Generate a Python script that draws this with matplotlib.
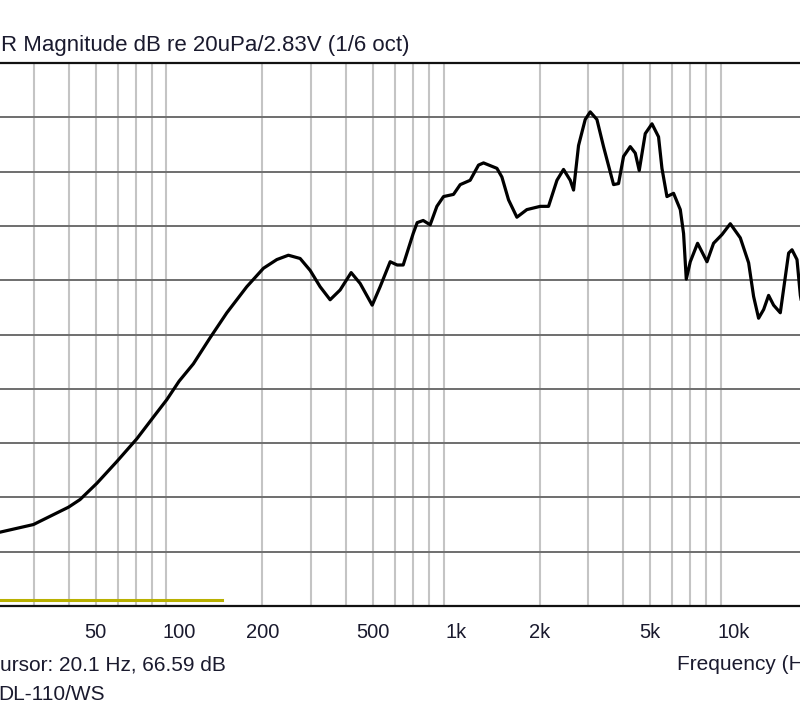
import numpy as np
import matplotlib
matplotlib.use("Agg")
import matplotlib.pyplot as plt

# frequency response (Hz, dB)
freq = [20, 22.6, 29.8, 39.9, 43.9, 50.5, 59.6, 70.4, 80.8, 90.3, 100,
        112.6, 129.4, 148.7, 175.5, 201.6, 225.3, 248, 273.4, 297.2, 322.8,
        350.8, 381.2, 417.8, 450.2, 497.6, 531.6, 577.8, 612.4, 643.8, 699.6,
        723.2, 760.2, 805.6, 851.8, 900, 977.9, 1034, 1123, 1204, 1255,
        1403, 1462, 1545, 1656, 1799, 2010, 2154, 2310, 2440, 2580,
        2652, 2764, 2922, 3046, 3220, 3402, 3698, 3854, 4018, 4248,
        4429, 4577, 4812, 5088, 5374, 5528, 5762, 6088, 6438, 6616,
        6766, 6995, 7432, 8037, 8489, 9104, 9754, 10600, 11360, 11840,
        12340, 12870, 13410, 13980, 14780, 15840, 16290, 16980, 17460, 18200]
spl = [66.6, 66.8, 67.5, 69.1, 69.8, 71.3, 73.3, 75.4, 77.4, 79.0, 80.7,
       82.3, 84.7, 87.0, 89.4, 91.1, 91.9, 92.3, 92.0, 90.9, 89.4,
       88.2, 89.1, 90.7, 89.7, 87.7, 89.4, 91.7, 91.4, 91.4, 94.3,
       95.3, 95.5, 95.1, 96.8, 97.7, 97.9, 98.8, 99.2, 100.6, 100.8,
       100.3, 99.5, 97.4, 95.8, 96.5, 96.8, 96.8, 99.2, 100.2, 99.2,
       98.3, 102.4, 104.8, 105.5, 104.8, 102.3, 98.8, 98.9, 101.4, 102.3,
       101.7, 100.1, 103.5, 104.4, 103.2, 100.3, 97.7, 98.0, 96.5, 94.3,
       90.1, 91.7, 93.4, 91.7, 93.4, 94.2, 95.2, 93.9, 91.6, 88.5,
       86.5, 87.3, 88.6, 87.7, 87.0, 92.5, 92.8, 91.9, 88.6, 86.0]

# second (yellow) trace at the bottom
freq2 = [20, 143]
spl2 = [60.55, 60.55]

tick_freqs = [20, 50, 100, 200, 500, 1000, 2000, 5000, 10000, 20000]
tick_labels = ["20", "50", "100", "200", "500", "1k", "2k", "5k", "10k", "20k"]
minor_freqs = [f * m for f in (10, 100, 1000, 10000) for m in range(2, 10)
               if 20 <= f * m <= 20000]
db_lines = list(range(60, 111, 5))

plt.rcParams["font.family"] = ["Liberation Sans", "DejaVu Sans"]

fig = plt.figure(figsize=(8, 7.15), dpi=100)
W, H = 800, 715
x0, x1 = -14.6, 816.7
y_top, y_bot = 63, 606
ax = fig.add_axes([x0 / W, (H - y_bot) / H, (x1 - x0) / W, (y_bot - y_top) / H])

ax.set_xscale("log")
ax.set_xlim(20, 20000)
ax.set_ylim(60, 110)

for f in minor_freqs:
    major = f in (100, 1000, 10000)
    ax.axvline(f, color="#7a7a7a" if major else "#c4c4c4",
               lw=1.5, zorder=1)
for d in db_lines[1:-1]:
    ax.axhline(d, color="#6e6e6e", lw=1.4, zorder=1)

ax.plot(freq2, spl2, color="#b8b000", lw=2.2, zorder=2)
ax.plot(freq, spl, color="black", lw=2.3, zorder=3)

ax.set_xticks(tick_freqs)
ax.set_xticklabels(tick_labels, fontsize=14.5, color="#1a1a2e")
ax.xaxis.set_minor_locator(matplotlib.ticker.NullLocator())
ax.tick_params(axis="x", length=0, pad=12)
ax.set_yticks([])
for s in ("top", "bottom"):
    ax.spines[s].set_linewidth(1.6)
    ax.spines[s].set_color("#111111")
ax.spines["left"].set_visible(False)
ax.spines["right"].set_visible(False)

txt = dict(va="center", ha="left", color="#1a1a2e")
fig.text(1 / W, 1 - 45 / H, "R Magnitude dB re 20uPa/2.83V (1/6 oct)",
         fontsize=16, **txt)
fig.text(0 / W, 1 - 665 / H, "ursor: 20.1 Hz, 66.59 dB", fontsize=15, **txt)
fig.text(-2 / W, 1 - 695 / H, "DL-110/WS", fontsize=15, **txt)
fig.text(677 / W, 1 - 665 / H, "Frequency (Hz)", fontsize=15, **txt)

fig.savefig("out.png", dpi=100)
